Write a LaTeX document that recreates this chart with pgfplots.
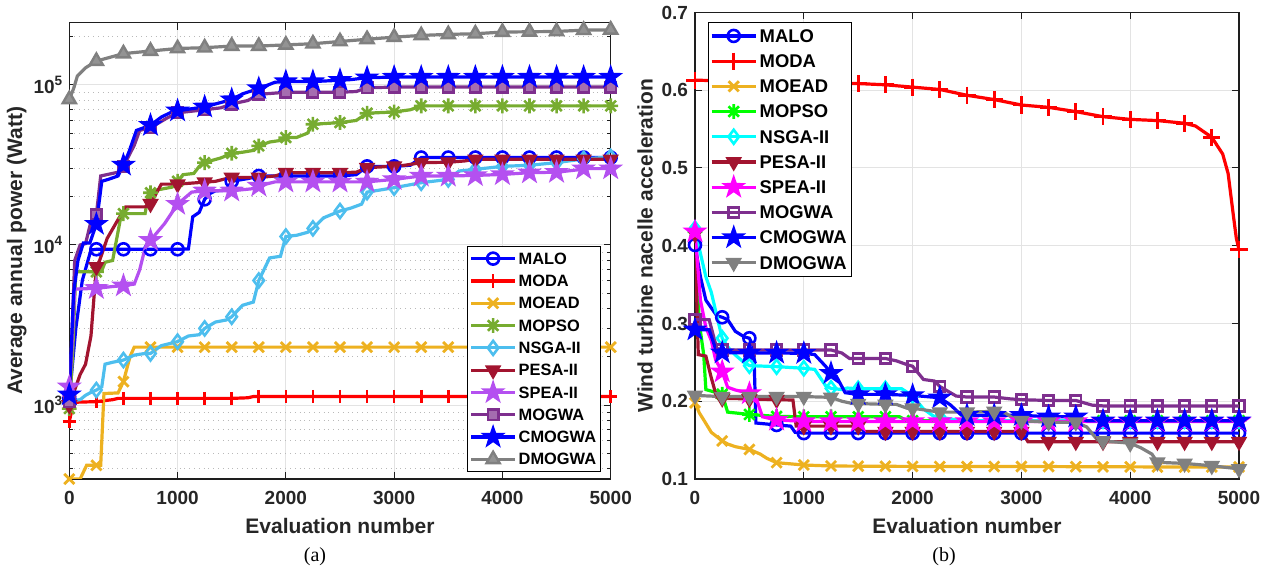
\documentclass[border=0pt]{standalone}
\usepackage{fontspec}
\setmainfont{Liberation Sans}
\newfontfamily\capfont{Liberation Serif}
\usepackage{pgfplots}
\pgfplotsset{compat=1.18}
\usepackage{pgfplotstable}

\definecolor{cblue}{RGB}{0,0,255}
\definecolor{cred}{RGB}{255,0,0}
\definecolor{corange}{RGB}{237,177,32}
\definecolor{cgreenL}{RGB}{119,172,48}
\definecolor{cgreenR}{RGB}{0,255,0}
\definecolor{clblue}{RGB}{77,190,238}
\definecolor{ccyan}{RGB}{0,255,255}
\definecolor{cdred}{RGB}{162,20,47}
\definecolor{cviolet}{RGB}{180,80,240}
\definecolor{cmagenta}{RGB}{255,0,255}
\definecolor{cpurple}{RGB}{126,47,142}
\definecolor{cgray}{RGB}{128,128,128}
\definecolor{txc}{RGB}{38,38,38}
\definecolor{axc}{RGB}{30,30,30}

\pgfdeclareplotmark{pstar}{%
  \pgfpathmoveto{\pgfpointpolar{90}{1.35\pgfplotmarksize}}%
  \pgfpathlineto{\pgfpointpolar{126}{0.53\pgfplotmarksize}}%
  \pgfpathlineto{\pgfpointpolar{162}{1.35\pgfplotmarksize}}%
  \pgfpathlineto{\pgfpointpolar{198}{0.53\pgfplotmarksize}}%
  \pgfpathlineto{\pgfpointpolar{234}{1.35\pgfplotmarksize}}%
  \pgfpathlineto{\pgfpointpolar{270}{0.53\pgfplotmarksize}}%
  \pgfpathlineto{\pgfpointpolar{306}{1.35\pgfplotmarksize}}%
  \pgfpathlineto{\pgfpointpolar{342}{0.53\pgfplotmarksize}}%
  \pgfpathlineto{\pgfpointpolar{18}{1.35\pgfplotmarksize}}%
  \pgfpathlineto{\pgfpointpolar{54}{0.53\pgfplotmarksize}}%
  \pgfpathclose
  \pgfusepathqfillstroke
}
\pgfdeclareplotmark{asteight}{%
  \pgfpathmoveto{\pgfpoint{-\pgfplotmarksize}{0pt}}\pgfpathlineto{\pgfpoint{\pgfplotmarksize}{0pt}}%
  \pgfpathmoveto{\pgfpoint{0pt}{-\pgfplotmarksize}}\pgfpathlineto{\pgfpoint{0pt}{\pgfplotmarksize}}%
  \pgfpathmoveto{\pgfpoint{-0.707\pgfplotmarksize}{-0.707\pgfplotmarksize}}\pgfpathlineto{\pgfpoint{0.707\pgfplotmarksize}{0.707\pgfplotmarksize}}%
  \pgfpathmoveto{\pgfpoint{-0.707\pgfplotmarksize}{0.707\pgfplotmarksize}}\pgfpathlineto{\pgfpoint{0.707\pgfplotmarksize}{-0.707\pgfplotmarksize}}%
  \pgfusepathqstroke
}

\pgfplotsset{
  leg/.style={legend image code/.code={%
    \draw[sharp plot, mark repeat=2, mark phase=2] plot coordinates {(0pt,0pt) (11pt,0pt) (22pt,0pt)};}},
  myaxis/.style={
    scale only axis, anchor=south west,
    xmin=0, xmax=5000, xtick={0,1000,2000,3000,4000,5000},
    axis line style={color=axc, line width=0.6pt},
    tick style={color=axc, line width=0.5pt},
    major tick length=3.5pt, minor tick length=2pt,
    ticklabel style={font=\fontsize{9.5}{11}\selectfont\bfseries, color=txc},
    label style={font=\fontsize{10.5}{12}\selectfont\bfseries, color=txc},
    /pgf/number format/assume math mode=true,
    /pgf/number format/set thousands separator={},
    xmajorgrids, ymajorgrids,
    major grid style={color=gray!22, line width=0.5pt},
    xlabel={Evaluation number},
    xticklabel style={yshift=-2.7pt},
    legend cell align=left,
  },
}

\newcommand\series[4]{%
  \addplot[color=#2, line width=1.6pt, mark=none, forget plot] table[x=x,y=y] {#1};
  \addplot[color=#2, line width=1.6pt, only marks, #3, restrict expr to domain={\thisrow{m}}{0.5:1.5}, leg] table[x=x,y=y] {#1};
  \addlegendentry{#4}
}
\newcommand\supt[1]{\raisebox{0.42em}{\fontsize{6.8}{7}\selectfont\bfseries #1}}

% ---------------- left panel data (Average annual power) ----------------
\pgfplotstableread{
x y m
0 1100 1
60 3000 0
120 6000 0
200 9300 0
250 9400 1
500 9400 1
750 9400 1
1000 9400 1
1100 9450 0
1140 15000 0
1200 16000 0
1250 19300 1
1300 21000 0
1350 21800 0
1450 22000 0
1500 25000 1
1650 26000 0
1750 27000 1
2000 27000 1
2250 27000 1
2500 27000 1
2650 27500 0
2750 31000 1
3000 31000 1
3150 31500 0
3250 35200 1
3500 35200 1
3750 35200 1
4000 35200 1
4250 35200 1
4500 35200 1
4750 35200 1
5000 35200 1
}\LMalo
\pgfplotstableread{
x y m
0 790 1
40 1040 0
250 1050 1
400 1080 0
450 1100 0
500 1100 1
750 1100 1
1000 1100 1
1250 1100 1
1500 1100 1
1650 1110 0
1700 1130 0
1750 1130 1
2000 1130 1
2250 1130 1
2500 1130 1
2750 1130 1
3000 1130 1
3250 1130 1
3500 1130 1
3750 1130 1
4000 1130 1
4250 1130 1
4500 1130 1
4750 1130 1
5000 1130 1
}\LModa
\pgfplotstableread{
x y m
0 345 1
100 345 0
160 420 0
250 420 1
290 420 0
320 1180 0
450 1190 0
500 1400 1
560 2000 0
600 2300 0
750 2300 1
1000 2300 1
1250 2300 1
1500 2300 1
1750 2300 1
2000 2300 1
2250 2300 1
2500 2300 1
2750 2300 1
3000 2300 1
3250 2300 1
3500 2300 1
3750 2300 1
4000 2300 1
4250 2300 1
4500 2300 1
4750 2300 1
5000 2300 1
}\LMoead
\pgfplotstableread{
x y m
0 950 1
30 2000 0
60 6800 0
250 6800 1
300 6900 0
330 7800 0
400 8000 0
480 15500 0
500 15700 1
700 15700 0
730 20500 0
750 21200 1
800 22000 0
950 23000 0
1000 25000 1
1050 27500 0
1150 28000 0
1200 31000 0
1250 32700 1
1300 33500 0
1400 35000 0
1500 37400 1
1600 38000 0
1700 39000 0
1750 41600 1
1850 44000 0
1950 45000 0
2000 46900 1
2100 47000 0
2200 50000 0
2250 56800 1
2500 58200 1
2650 60000 0
2750 66600 1
3000 67800 1
3150 70000 0
3250 74000 1
3500 74000 1
3750 74000 1
4000 74000 1
4250 74000 1
4500 74000 1
4750 74000 1
5000 74000 1
}\LMopso
\pgfplotstableread{
x y m
0 1060 1
100 1080 0
150 1150 0
200 1200 0
250 1240 1
300 1300 0
330 1800 0
400 1850 0
500 1910 1
600 2050 0
700 2100 0
750 2100 1
850 2350 0
1000 2490 1
1100 2700 0
1200 2750 0
1250 3010 1
1350 3300 0
1450 3400 0
1500 3560 1
1600 4200 0
1700 4400 0
1750 6000 1
1850 8300 0
1950 8500 0
2000 11300 1
2100 11500 0
2200 12000 0
2250 12700 1
2350 14800 0
2500 16300 1
2600 17000 0
2700 18000 0
2750 21400 1
3000 22800 1
3250 24500 1
3500 25700 1
3600 29000 0
3750 29700 1
4000 31000 1
4250 31500 1
4500 32700 1
4750 34500 1
5000 35500 1
}\LNsga
\pgfplotstableread{
x y m
0 1000 1
100 1550 0
150 1800 0
200 2700 0
250 7300 1
280 8000 0
350 11000 0
450 14400 0
520 17300 0
700 17300 0
750 18100 1
850 24000 0
1000 24000 1
1250 24700 1
1350 25000 0
1450 26000 0
1500 26400 1
1750 26400 1
1900 27000 0
2000 28300 1
2250 28300 1
2500 28300 1
2650 28500 0
2750 30400 1
3000 31100 1
3100 31500 0
3250 32700 1
3500 32900 1
3650 33500 0
3750 34300 1
4000 34300 1
4250 34300 1
4500 34300 1
4750 34300 1
5000 34300 1
}\LPesa
\pgfplotstableread{
x y m
0 1300 1
20 2000 0
50 5300 0
250 5360 1
400 5500 0
500 5570 1
600 5700 0
650 7000 0
700 9550 0
750 10700 1
880 13600 0
1000 18000 1
1130 21400 0
1250 21800 1
1500 21800 1
1700 22500 0
1750 23400 1
1900 24800 0
2000 24800 1
2250 24800 1
2500 24800 1
2750 24800 1
3000 25700 1
3250 27000 1
3500 27000 1
3750 27200 1
4000 27600 1
4250 28300 1
4500 28500 1
4700 29500 0
4750 30000 1
5000 30000 1
}\LSpea
\pgfplotstableread{
x y m
0 1050 1
50 8000 0
100 10000 0
150 10200 0
200 14000 0
250 15500 1
290 27000 0
450 28500 0
500 31000 1
600 42000 0
650 52000 0
750 54000 1
900 62000 0
1000 67000 1
1250 70000 1
1400 72000 0
1500 76000 1
1650 80000 0
1750 87400 1
2000 90000 1
2250 90000 1
2500 90000 1
2650 91000 0
2750 96000 1
3000 97000 1
3250 97000 1
3500 97000 1
3750 97000 1
4000 97000 1
4250 97000 1
4500 97000 1
4750 97000 1
5000 97000 1
}\LMogwa
\pgfplotstableread{
x y m
0 1160 1
40 5000 0
80 8000 0
130 10300 0
190 10300 0
250 13500 1
300 25000 0
360 25700 0
450 27000 0
500 31600 1
550 38000 0
620 52000 0
750 56000 1
850 63000 0
950 68000 0
1000 69000 1
1250 73000 1
1500 81000 1
1600 88000 0
1750 95000 1
1900 104000 0
2000 105000 1
2250 105000 1
2500 107000 1
2600 108000 0
2750 111000 1
3000 112000 1
3250 112000 1
3500 112000 1
3750 112000 1
4000 112000 1
4250 112000 1
4500 112000 1
4750 112000 1
5000 112000 1
}\LCmogwa
\pgfplotstableread{
x y m
0 81300 1
40 95000 0
75 114000 0
150 128000 0
250 141000 1
500 157000 1
750 163000 1
1000 169000 1
1250 171000 1
1500 175000 1
1750 175000 1
2000 178000 1
2250 181000 1
2500 187000 1
2750 193000 1
3000 199000 1
3250 204000 1
3500 207000 1
3750 209000 1
4000 214000 1
4250 215000 1
4500 216000 1
4750 220000 1
5000 221000 1
}\LDmogwa

% ---------------- right panel data (nacelle acceleration) ----------------
\pgfplotstableread{
x y m
0 0.401 1
50 0.36 0
100 0.33 0
200 0.31 0
250 0.308 1
300 0.305 0
370 0.29 0
450 0.283 0
500 0.281 1
540 0.27 0
560 0.172 0
750 0.1695 1
880 0.168 0
920 0.16 0
1000 0.159 1
1250 0.159 1
1500 0.159 1
1750 0.159 1
2000 0.159 1
2250 0.159 1
2500 0.159 1
2750 0.159 1
3000 0.159 1
3250 0.159 1
3500 0.159 1
3750 0.159 1
4000 0.159 1
4250 0.159 1
4500 0.159 1
4750 0.159 1
5000 0.159 1
}\RMalo
\pgfplotstableread{
x y m
0 0.613 1
250 0.612 1
500 0.611 1
750 0.610 1
1000 0.610 1
1250 0.609 1
1500 0.6086 1
1750 0.607 1
2000 0.604 1
2250 0.601 1
2500 0.5935 1
2750 0.588 1
3000 0.581 1
3250 0.578 1
3500 0.5725 1
3750 0.566 1
4000 0.5625 1
4250 0.561 1
4500 0.5575 1
4600 0.554 0
4750 0.5395 1
4850 0.518 0
4900 0.493 0
4950 0.437 0
4975 0.41 0
5000 0.395 1
}\RModa
\pgfplotstableread{
x y m
0 0.198 1
40 0.185 0
80 0.176 0
150 0.16 0
250 0.149 1
300 0.145 0
370 0.1416 0
500 0.138 1
600 0.132 0
660 0.1266 0
750 0.121 1
1000 0.118 1
1250 0.1167 1
1500 0.1165 1
1750 0.1163 1
2000 0.1162 1
2250 0.116 1
2500 0.116 1
2750 0.116 1
3000 0.116 1
3250 0.116 1
3500 0.1158 1
3750 0.1157 1
4000 0.1156 1
4250 0.1155 1
4500 0.1155 1
4750 0.1155 1
5000 0.1155 1
}\RMoead
\pgfplotstableread{
x y m
0 0.418 1
40 0.30 0
80 0.26 0
100 0.215 0
250 0.209 1
300 0.186 0
500 0.183 1
750 0.1805 1
1000 0.18 1
1250 0.18 1
1500 0.18 1
1750 0.18 1
1880 0.18 0
1950 0.175 0
2000 0.175 1
2250 0.175 1
2500 0.175 1
2750 0.175 1
3000 0.175 1
3250 0.175 1
3500 0.175 1
3750 0.175 1
4000 0.175 1
4250 0.175 1
4500 0.175 1
4750 0.175 1
5000 0.175 1
}\RMopso
\pgfplotstableread{
x y m
0 0.422 1
50 0.39 0
100 0.36 0
150 0.34 0
200 0.31 0
250 0.281 1
300 0.27 0
370 0.2595 0
450 0.25 0
500 0.2458 1
750 0.2445 1
1000 0.2424 1
1100 0.241 0
1200 0.22 0
1250 0.2166 1
1350 0.215 0
1400 0.217 0
1500 0.216 1
1750 0.216 1
1900 0.216 0
2000 0.207 1
2100 0.19 0
2200 0.18 0
2250 0.1796 1
2400 0.176 0
2500 0.175 1
2750 0.175 1
3000 0.175 1
3250 0.175 1
3500 0.175 1
3750 0.175 1
4000 0.175 1
4250 0.175 1
4500 0.175 1
4750 0.175 1
5000 0.175 1
}\RNsga
\pgfplotstableread{
x y m
0 0.415 1
30 0.26 0
100 0.258 0
150 0.23 0
200 0.205 0
250 0.2038 1
500 0.203 1
750 0.202 1
900 0.2016 0
930 0.168 0
1000 0.168 1
1250 0.168 1
1500 0.168 1
1560 0.161 0
1750 0.161 1
2000 0.161 1
2250 0.161 1
2500 0.161 1
2750 0.161 1
3000 0.161 1
3060 0.148 0
3250 0.148 1
3500 0.148 1
3750 0.148 1
4000 0.148 1
4250 0.148 1
4500 0.148 1
4750 0.148 1
5000 0.148 1
}\RPesa
\pgfplotstableread{
x y m
0 0.418 1
50 0.33 0
100 0.295 0
150 0.278 0
190 0.253 0
250 0.238 1
300 0.218 0
370 0.2145 0
500 0.21 1
560 0.205 0
620 0.18 0
750 0.176 1
1000 0.174 1
1250 0.174 1
1500 0.174 1
1750 0.174 1
2000 0.174 1
2250 0.174 1
2500 0.174 1
2750 0.174 1
3000 0.174 1
3250 0.174 1
3500 0.174 1
3750 0.174 1
4000 0.174 1
4250 0.174 1
4500 0.174 1
4750 0.174 1
5000 0.174 1
}\RSpea
\pgfplotstableread{
x y m
0 0.305 1
130 0.305 0
200 0.268 0
250 0.266 1
500 0.266 1
750 0.266 1
1000 0.266 1
1250 0.266 1
1350 0.262 0
1420 0.255 0
1500 0.255 1
1750 0.255 1
1850 0.252 0
1950 0.247 0
2000 0.245 1
2100 0.228 0
2200 0.226 0
2250 0.219 1
2400 0.2067 0
2500 0.2054 1
2750 0.2054 1
2900 0.203 0
3000 0.202 1
3250 0.201 1
3500 0.201 1
3650 0.195 0
3750 0.194 1
4000 0.194 1
4250 0.194 1
4500 0.194 1
4750 0.194 1
5000 0.194 1
}\RMogwa
\pgfplotstableread{
x y m
0 0.292 1
130 0.292 0
200 0.263 0
250 0.2625 1
500 0.2622 1
750 0.262 1
1000 0.2617 1
1100 0.26 0
1200 0.245 0
1250 0.236 1
1300 0.232 0
1380 0.211 0
1500 0.2088 1
1750 0.2088 1
2000 0.2075 1
2250 0.2045 1
2350 0.195 0
2450 0.182 0
2500 0.182 1
2750 0.182 1
3000 0.182 1
3250 0.18 1
3500 0.18 1
3600 0.175 0
3750 0.175 1
4000 0.175 1
4250 0.175 1
4500 0.175 1
4750 0.175 1
5000 0.175 1
}\RCmogwa
\pgfplotstableread{
x y m
0 0.2075 1
250 0.206 1
500 0.206 1
750 0.206 1
1000 0.206 1
1250 0.205 1
1350 0.2 0
1450 0.197 0
1500 0.197 1
1750 0.196 1
1850 0.196 0
1950 0.191 0
2000 0.191 1
2150 0.188 0
2250 0.186 1
2500 0.186 1
2750 0.187 1
2850 0.185 0
2950 0.176 0
3000 0.175 1
3250 0.173 1
3500 0.173 1
3600 0.167 0
3700 0.15 0
3750 0.149 1
4000 0.146 1
4100 0.14 0
4200 0.132 0
4250 0.1215 1
4500 0.12 1
4750 0.117 1
5000 0.113 1
}\RDmogwa

\begin{document}
\begin{tikzpicture}
\path[use as bounding box] (0pt,0pt) rectangle (635pt,285.5pt);

% ---------------- (a) ----------------
\begin{axis}[myaxis,
  at={(34.65pt,46pt)}, width=270.7pt, height=228.15pt,
  ymode=log, ymin=345, ymax=2.45e5,
  ytick={1000,10000,100000},
  yticklabels={10\supt{3},10\supt{4},10\supt{5}},
  minor ytick={400,500,600,700,800,900,2000,3000,4000,5000,6000,7000,8000,9000,20000,30000,40000,50000,60000,70000,80000,90000,200000},
  yminorgrids,
  minor grid style={color=gray!55, dotted, line width=0.5pt},
  ylabel={Average annual power (Watt)},
  ylabel style={at={(axis description cs:-0.0972,0.5)}, anchor=center},
  xlabel style={at={(axis description cs:0.5,-0.103)}, anchor=center},
  legend style={at={(0.7346,0.5106)}, anchor=north west, draw=black, line width=0.5pt, fill=white,
    font=\fontsize{8.2}{9}\selectfont\bfseries, inner xsep=1pt, inner ysep=0.5pt, row sep=0pt,
    nodes={inner sep=1pt, text height=7.4pt, text depth=1.75pt}},
]
\series{\LMalo}{cblue}{mark=o, mark size=3pt, mark options={solid, line width=1.3pt}}{MALO}
\series{\LModa}{cred}{mark=+, mark size=3.3pt, mark options={solid, line width=1.3pt}}{MODA}
\series{\LMoead}{corange}{mark=x, mark size=3.6pt, mark options={solid, line width=1.4pt}}{MOEAD}
\series{\LMopso}{cgreenL}{mark=asteight, mark size=3.7pt, mark options={solid, line width=1.3pt}}{MOPSO}
\series{\LNsga}{clblue}{mark=diamond, mark size=3.5pt, mark options={solid, line width=1.3pt}}{NSGA-II}
\series{\LPesa}{cdred}{mark=triangle*, mark size=3.6pt, mark options={solid, line width=1.2pt, rotate=180}}{PESA-II}
\series{\LSpea}{cviolet}{mark=pstar, mark size=3.7pt, mark options={solid, line width=1pt}}{SPEA-II}
\series{\LMogwa}{cpurple}{mark=square*, mark size=2.6pt, mark options={solid, line width=1.3pt, fill=cpurple!70!white}}{MOGWA}
\series{\LCmogwa}{cblue}{mark=pstar, mark size=3.7pt, mark options={solid, line width=1pt}}{CMOGWA}
\series{\LDmogwa}{cgray}{mark=triangle*, mark size=3.8pt, mark options={solid, line width=1.2pt, fill=cgray!85!white}}{DMOGWA}
\end{axis}

% ---------------- (b) ----------------
\begin{axis}[myaxis,
  at={(347.5pt,46pt)}, width=272pt, height=233.25pt,
  ymin=0.1, ymax=0.7,
  ytick={0.1,0.2,0.3,0.4,0.5,0.6,0.7},
  yticklabels={0.1,0.2,0.3,0.4,0.5,0.6,0.7},
  ylabel={Wind turbine nacelle acceleration},
  ylabel style={at={(axis description cs:-0.0919,0.5)}, anchor=center},
  xlabel style={at={(axis description cs:0.5,-0.1007)}, anchor=center},
  legend style={at={(0.0232,0.980)}, anchor=north west, draw=black, line width=0.5pt, fill=white,
    font=\fontsize{9.2}{10}\selectfont\bfseries, inner xsep=1pt, inner ysep=0.5pt, row sep=0pt,
    nodes={inner sep=1.2pt, text height=8.3pt, text depth=1.9pt}},
]
\series{\RMalo}{cblue}{mark=o, mark size=3pt, mark options={solid, line width=1.3pt}}{MALO}
\series{\RModa}{cred}{mark=+, mark size=4.3pt, mark options={solid, line width=1.4pt}}{MODA}
\series{\RMoead}{corange}{mark=x, mark size=3.6pt, mark options={solid, line width=1.4pt}}{MOEAD}
\series{\RMopso}{cgreenR}{mark=asteight, mark size=3.7pt, mark options={solid, line width=1.3pt}}{MOPSO}
\series{\RNsga}{ccyan}{mark=diamond, mark size=3.5pt, mark options={solid, line width=1.3pt}}{NSGA-II}
\series{\RPesa}{cdred}{mark=triangle*, mark size=3.6pt, mark options={solid, line width=1.2pt, rotate=180}}{PESA-II}
\series{\RSpea}{cmagenta}{mark=pstar, mark size=3.7pt, mark options={solid, line width=1pt}}{SPEA-II}
\series{\RMogwa}{cpurple}{mark=square, mark size=2.6pt, mark options={solid, line width=1.4pt}}{MOGWA}
\series{\RCmogwa}{cblue}{mark=pstar, mark size=3.7pt, mark options={solid, line width=1pt}}{CMOGWA}
\series{\RDmogwa}{cgray}{mark=triangle*, mark size=3.6pt, mark options={solid, line width=1.2pt, rotate=180}}{DMOGWA}
\end{axis}

\node[font=\capfont\fontsize{10}{12}\selectfont, text=black] at (157.5pt,7.15pt) {(a)};
\node[font=\capfont\fontsize{10}{12}\selectfont, text=black] at (472pt,7.15pt) {(b)};
\end{tikzpicture}
\end{document}
